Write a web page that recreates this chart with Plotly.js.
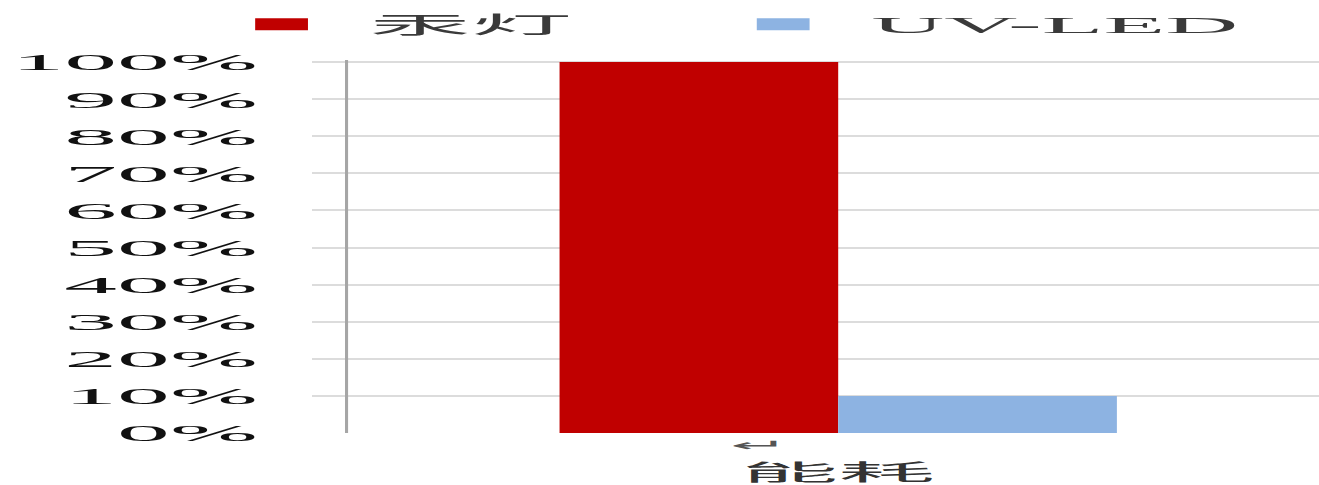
<!DOCTYPE html>
<html>
<head>
<meta charset="utf-8">
<script src="https://cdn.plot.ly/plotly-3.0.1.min.js"></script>
<style>
  html, body { margin: 0; padding: 0; background: #fff; overflow: hidden; }
  #wrap { width: 1319px; height: 485px; overflow: hidden; position: relative; }
  /* the chart is laid out narrow and widened horizontally, like a stretched figure */
  #chart { width: 310px; height: 485px; transform: scaleX(4.4); transform-origin: 0 0; }
</style>
</head>
<body>
<div id="wrap"><div id="chart"></div></div>
<script>
// energy consumption, relative share
const categories = ['能耗'];
const seriesNames = ['汞灯', 'UV-LED'];
const mercuryLamp = [1.00];
const uvLed = [0.10];
const yTickValues = [0, 0.1, 0.2, 0.3, 0.4, 0.5, 0.6, 0.7, 0.8, 0.9, 1.0];

const serif = 'Liberation Serif, Times New Roman, Noto Sans CJK SC, serif';
const cjk = 'Noto Sans CJK SC, Liberation Serif, sans-serif';

const traces = [
  {
    type: 'bar', name: seriesNames[0], x: categories, y: mercuryLamp,
    marker: { color: '#c00000', line: { width: 0 } },
    legend: 'legend', hoverinfo: 'skip'
  },
  {
    type: 'bar', name: seriesNames[1], x: categories, y: uvLed,
    marker: { color: '#8db3e2', line: { width: 0 } },
    legend: 'legend2', hoverinfo: 'skip'
  }
];

const legendFont = { family: serif, size: 23, color: '#3a3a3a' };

const layout = {
  width: 310,
  height: 485,
  margin: { l: 71, r: 0, t: 60, b: 52 },
  paper_bgcolor: '#ffffff',
  plot_bgcolor: '#ffffff',
  barmode: 'group',
  bargap: 0.47,
  bargroupgap: 0,
  showlegend: true,
  legend: {
    x: -0.113, xanchor: 'left', y: 1.096, yanchor: 'middle',
    orientation: 'h', font: legendFont, bgcolor: 'rgba(0,0,0,0)'
  },
  legend2: {
    x: 0.364, xanchor: 'left', y: 1.096, yanchor: 'middle',
    orientation: 'h', font: legendFont, bgcolor: 'rgba(0,0,0,0)'
  },
  xaxis: {
    type: 'category',
    domain: [0, 1],
    showline: false,
    showgrid: false,
    zeroline: false,
    ticks: '',
    ticklabelstandoff: 24,
    tickfont: { family: cjk, size: 22, color: '#333333' }
  },
  yaxis: {
    range: [0, 1.0054],
    anchor: 'free',
    position: 0.031,
    tickvals: yTickValues,
    tickformat: '.0%',
    ticks: '',
    ticklabelstandoff: 15,
    tickfont: { family: serif, size: 24, color: '#111111' },
    showline: true,
    linecolor: '#a6a6a6',
    linewidth: 0.7,
    showgrid: true,
    gridcolor: '#dcdcdc',
    gridwidth: 2,
    zeroline: false
  },
  annotations: [
    {
      text: '↵', x: categories[0], xref: 'x', xshift: -18,
      y: -0.034, yref: 'paper', yanchor: 'middle',
      showarrow: false,
      font: { family: 'DejaVu Sans, sans-serif', size: 16, color: '#555555' }
    }
  ]
};

Plotly.newPlot('chart', traces, layout, { staticPlot: true, displayModeBar: false });
</script>
</body>
</html>
